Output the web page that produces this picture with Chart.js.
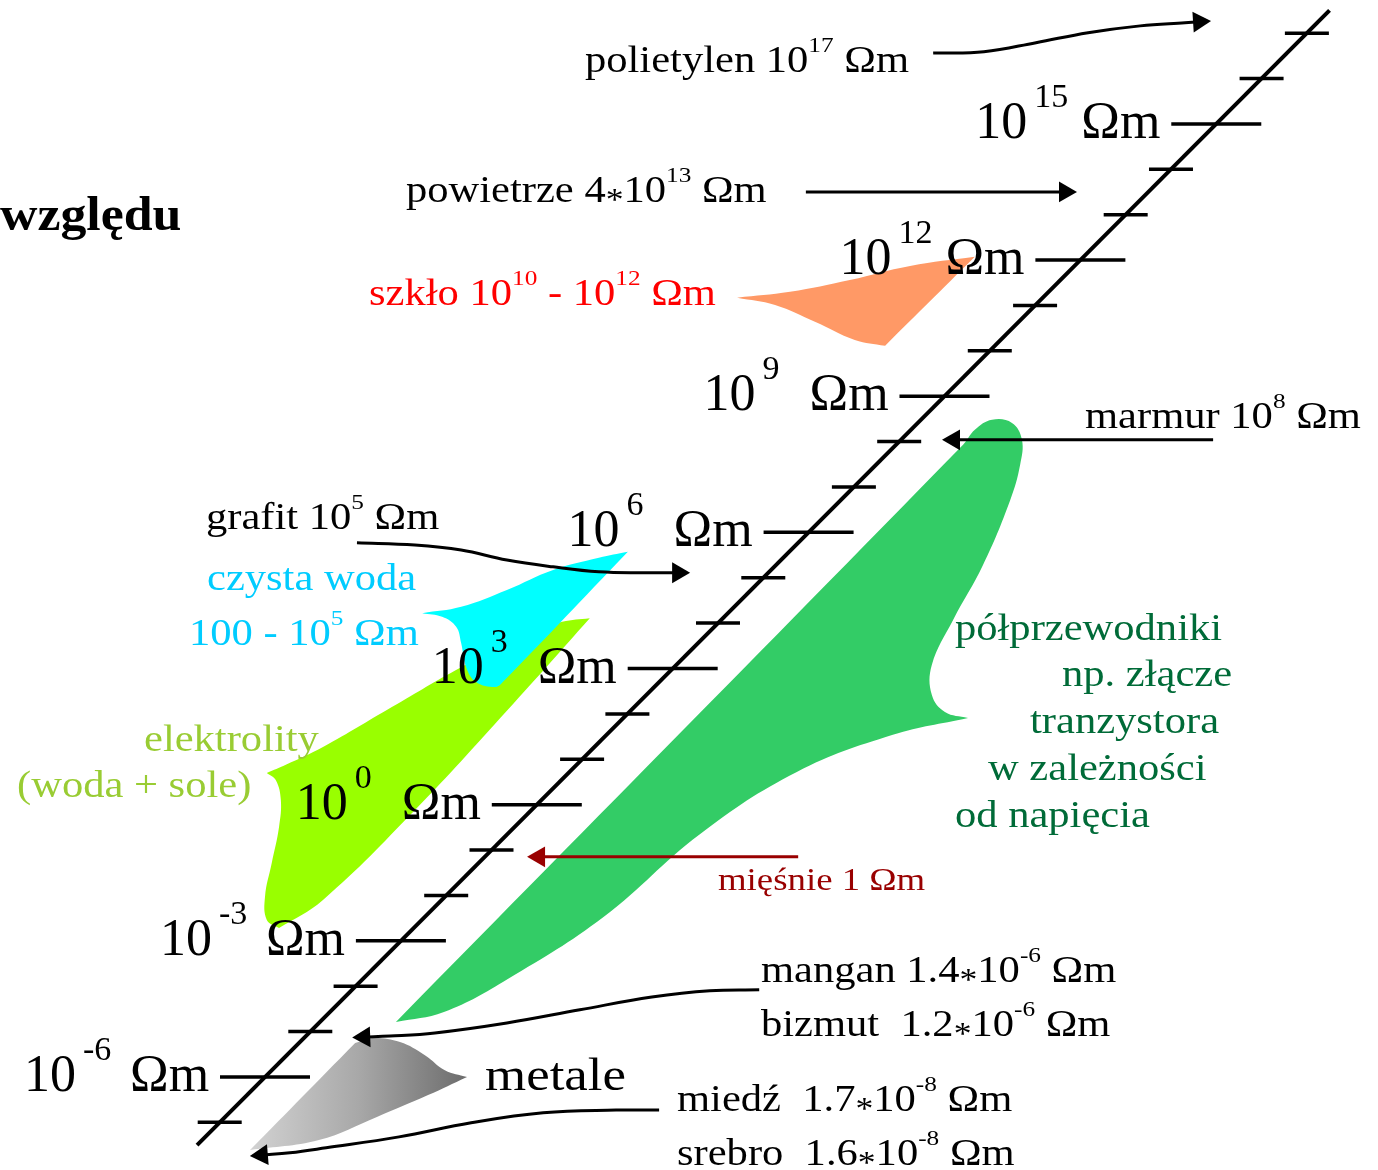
<!DOCTYPE html>
<html>
<head>
<meta charset="utf-8">
<script src="https://cdn.jsdelivr.net/npm/chart.js@4"></script>
<style>
html,body{margin:0;padding:0;background:#fff;}
#wrap{position:relative;width:1378px;height:1170px;}
</style>
</head>
<body>
<div id="wrap"><canvas id="c"></canvas></div>
<script>
// ===== DATA (log10 of resistivity in Ωm) =====
const resistivityDecades = [-7,-6,-5,-4,-3,-2,-1,0,1,2,3,4,5,6,7,8,9,10,11,12,13,14,15,16,17];
const labelledDecades = [-6,-3,0,3,6,9,12,15];
const axisSpan = [-7.5, 17.5];
const tickBase = '10';
const tickUnit = 'Ωm';

// Material arrows (path in decade units, last point = arrow head)
const arrowPolietylen = [[8.75,16.56],[9.87,16.59],[11.02,16.79],[12.17,17.01],[13.32,17.16],[14.31,17.23],[14.62,17.25]];
const arrowPowietrze  = [[5.94,13.5],[11.66,13.5]];
const arrowMarmur     = [[14.93,8.04],[9.21,8.04]];
const arrowGrafit     = [[-3.97,5.77],[-2.69,5.72],[-1.67,5.61],[-0.66,5.39],[0.36,5.24],[1.37,5.13],[2.39,5.11],[3.12,5.11]];
const arrowMiesnie    = [[5.77,-1.15],[0.05,-1.15]];
const arrowMangan     = [[4.91,-4.08],[3.82,-4.10],[2.54,-4.24],[0.95,-4.52],[-0.66,-4.81],[-2.25,-5.03],[-3.24,-5.10],[-3.81,-5.12]];
const arrowMiedz      = [[2.70,-6.73],[1.75,-6.73],[0.14,-6.79],[-1.45,-7.01],[-3.04,-7.32],[-4.65,-7.56],[-5.45,-7.67],[-6.07,-7.72]];

// Material ranges (outlines in decade units; repeated point = sharp corner)
const rangeSzklo = [[4.42,11.17],[4.42,11.17],[5.59,11.30],[6.91,11.56],[8.24,11.87],[9.67,12.07],[9.67,12.07],[7.69,10.11],[7.69,10.11],[7.02,10.24],[6.14,10.64],[5.26,11.01],[4.42,11.17]];
const rangeWoda = [[2.01,5.57],[2.01,5.57],[1.37,5.44],[0.36,5.17],[-0.66,4.73],[-1.67,4.36],[-2.53,4.22],[-2.53,4.22],[-2.09,4.14],[-1.78,3.92],[-1.67,3.56],[-1.56,3.03],[-1.34,2.70],[-0.92,2.59],[-0.75,2.70],[2.01,5.57]];
const rangeElektrolity = [[1.17,4.11],[1.17,4.11],[0.56,4.03],[-0.15,3.78],[-1.67,3.03],[-3.20,2.15],[-4.72,1.27],[-5.54,0.88],[-5.96,0.70],[-5.96,0.70],[-5.76,0.54],[-5.65,0.10],[-5.69,-0.49],[-5.85,-1.28],[-6.00,-2.03],[-5.96,-2.54],[-5.69,-2.72],[-5.69,-2.72],[-4.72,-2.10],[-2.69,-0.12],[-0.66,2.07],[1.17,4.11]];
const rangePolprzewodniki = [[-3.11,-4.79],[-3.11,-4.79],[9.41,7.93],[9.67,8.26],[10.05,8.48],[10.49,8.41],[10.71,8.04],[10.67,7.49],[10.45,6.71],[9.85,5.28],[9.19,4.07],[8.72,3.08],[8.72,2.42],[9.01,2.04],[9.52,1.91],[9.52,1.91],[7.86,1.54],[5.74,0.72],[3.60,-0.65],[1.48,-2.47],[-0.64,-3.84],[-2.05,-4.57],[-3.11,-4.79]];
const rangeMetale = [[-4.01,-5.25],[-4.01,-5.25],[-3.62,-5.14],[-3.02,-5.23],[-2.47,-5.52],[-2.03,-5.85],[-1.54,-6.00],[-1.54,-6.00],[-2.40,-6.40],[-3.53,-6.88],[-4.81,-7.39],[-6.33,-7.61],[-6.33,-7.61],[-4.01,-5.25]];

// ===== LAYOUT / STYLE =====
const FONT = '"Liberation Serif", "Times New Roman", serif';
// '~' marks a small multiplication asterisk, ^{..} a superscript
const notes = [
  {text:'polietylen 10^{17} Ωm', x:585, y:72, color:'#000'},
  {text:'powietrze 4~10^{13} Ωm', x:406, y:202, color:'#000'},
  {text:'szkło 10^{10} - 10^{12} Ωm', x:369, y:305, color:'#ff0000'},
  {text:'marmur 10^{8} Ωm', x:1085, y:428, color:'#000'},
  {text:'grafit 10^{5} Ωm', x:206, y:529, color:'#000'},
  {text:'czysta woda', x:207, y:590, color:'#00ccff'},
  {text:'100 - 10^{5} Ωm', x:189, y:645, color:'#00ccff'},
  {text:'elektrolity', x:144, y:751, color:'#99cc33'},
  {text:'(woda + sole)', x:17, y:797, color:'#99cc33'},
  {text:'półprzewodniki', x:955, y:640, color:'#006b38'},
  {text:'np. złącze', x:1062, y:686, color:'#006b38'},
  {text:'tranzystora', x:1030, y:733, color:'#006b38'},
  {text:'w zależności', x:988, y:780, color:'#006b38'},
  {text:'od napięcia', x:955, y:827, color:'#006b38'},
  {text:'mięśnie 1 Ωm', x:718, y:890, color:'#990000', size:32},
  {text:'mangan 1.4~10^{-6} Ωm', x:761, y:982, color:'#000'},
  {text:'bizmut  1.2~10^{-6} Ωm', x:761, y:1036, color:'#000'},
  {text:'metale', x:485, y:1090, color:'#000', size:46},
  {text:'miedź  1.7~10^{-8} Ωm', x:677, y:1111, color:'#000'},
  {text:'srebro  1.6~10^{-8} Ωm', x:677, y:1165, color:'#000'},
  {text:'względu', x:0, y:230, color:'#000', size:48, bold:true, sx:1.08}
];
const NOTE_SIZE = 37, NOTE_SX = 1.15;

function pts(a){ return a.map(p => ({x:p[0], y:p[1]})); }

function blob(arr, color, order){
  return {data: pts(arr), showLine:true, fill:'shape', backgroundColor:color,
    borderColor:'rgba(0,0,0,0)', borderWidth:0, pointRadius:0, tension:0.4, order:order};
}

function arrow(arr, color, order){
  const n = arr.length;
  return {data: pts(arr), showLine:true, fill:false, borderColor:color, borderWidth:3,
    tension:0.4, order:order, pointStyle:'triangle',
    pointRadius: arr.map((_,i) => i === n-1 ? 12 : 0),
    pointBackgroundColor: color, pointBorderWidth:0, pointBorderColor:color,
    pointRotation: (c) => {
      const ch = c.chart, xs = ch.scales.x, ys = ch.scales.y;
      const d = c.dataset.data, i = c.dataIndex;
      if (!xs || !ys || i < 1) return 0;
      const dx = xs.getPixelForValue(d[i].x) - xs.getPixelForValue(d[i-1].x);
      const dy = ys.getPixelForValue(d[i].y) - ys.getPixelForValue(d[i-1].y);
      return Math.atan2(dy, dx) * 180 / Math.PI + 90;
    }};
}

const metalGradient = (c) => {
  const ch = c.chart, xs = ch.scales.x;
  if (!xs || !ch.chartArea) return '#aaaaaa';
  const g = ch.ctx.createLinearGradient(xs.getPixelForValue(-6.33), 0, xs.getPixelForValue(-1.54), 0);
  g.addColorStop(0, '#d2d2d2');
  g.addColorStop(0.5, '#a8a8a8');
  g.addColorStop(1, '#6c6c6c');
  return g;
};

const minorTicks = resistivityDecades.filter(d => !labelledDecades.includes(d));

const datasets = [
  blob(rangeElektrolity, '#99ff00', 14),
  blob(rangeWoda, '#00ffff', 13),
  blob(rangeSzklo, '#ff9966', 12),
  blob(rangePolprzewodniki, '#33cc66', 11),
  blob(rangeMetale, metalGradient, 10),
  {data: pts([[axisSpan[0],axisSpan[0]],[axisSpan[1],axisSpan[1]]]), showLine:true, borderColor:'#000', borderWidth:4, pointRadius:0, order:3, fill:false},
  {data: minorTicks.map(d => ({x:d, y:d})), showLine:false, pointStyle:'line', pointRadius:22, pointBorderWidth:3.5, pointBorderColor:'#000', order:2},
  {data: labelledDecades.map(d => ({x:d, y:d})), showLine:false, pointStyle:'line', pointRadius:45, pointBorderWidth:3.5, pointBorderColor:'#000', order:2},
  arrow(arrowPolietylen, '#000', 1),
  arrow(arrowPowietrze, '#000', 1),
  arrow(arrowMarmur, '#000', 1),
  arrow(arrowGrafit, '#000', 1),
  arrow(arrowMiesnie, '#990000', 1),
  arrow(arrowMangan, '#000', 1),
  arrow(arrowMiedz, '#000', 1)
];

function drawRich(ctx, text, x, y, size, color, bold, sx){
  const parts = [];
  const re = /\^\{([^}]*)\}|~/g;
  let last = 0, m;
  while ((m = re.exec(text)) !== null){
    if (m.index > last) parts.push({t:text.slice(last, m.index), kind:'n'});
    if (m[0] === '~') parts.push({t:'*', kind:'ast'});
    else parts.push({t:m[1], kind:'sup'});
    last = re.lastIndex;
  }
  if (last < text.length) parts.push({t:text.slice(last), kind:'n'});
  ctx.save();
  ctx.translate(x, y);
  ctx.scale(sx, 1);
  ctx.fillStyle = color;
  ctx.textBaseline = 'alphabetic';
  ctx.textAlign = 'left';
  let cx = 0;
  for (const p of parts){
    let fs = size, dy = 0;
    if (p.kind === 'sup'){ fs = Math.round(size*0.6); dy = -size*0.55; }
    if (p.kind === 'ast'){ fs = Math.round(size*0.85); dy = size*0.22; }
    ctx.font = (bold ? 'bold ' : '') + fs + 'px ' + FONT;
    ctx.fillText(p.t, cx, dy);
    cx += ctx.measureText(p.t).width;
  }
  ctx.restore();
}

const textPlugin = {
  id: 'texts',
  afterDatasetsDraw(chart){
    const ctx = chart.ctx, xs = chart.scales.x, ys = chart.scales.y;
    for (const d of labelledDecades){
      const cx = xs.getPixelForValue(d), cy = ys.getPixelForValue(d);
      const x0 = cx - 241;
      ctx.save();
      ctx.fillStyle = '#000';
      ctx.textBaseline = 'alphabetic';
      ctx.font = '52px ' + FONT;
      ctx.fillText(tickBase, x0, cy + 14);
      ctx.font = '34px ' + FONT;
      ctx.fillText(String(d), x0 + 59, cy - 17);
      ctx.font = '52px ' + FONT;
      ctx.fillText(tickUnit, x0 + 106, cy + 14);
      ctx.restore();
    }
    for (const n of notes){
      drawRich(ctx, n.text, n.x, n.y, n.size || NOTE_SIZE, n.color, !!n.bold, n.sx || NOTE_SX);
    }
  }
};

new Chart(document.getElementById('c'), {
  type: 'scatter',
  data: {datasets},
  options: {
    responsive: true,
    maintainAspectRatio: false,
    animation: false,
    events: [],
    layout: {padding: 0, autoPadding: false},
    plugins: {legend:{display:false}, tooltip:{enabled:false}},
    scales: {
      x: {type:'linear', display:false, min:-11.85, max:18.57},
      y: {type:'linear', display:false, min:-8.05, max:17.73}
    }
  },
  plugins: [textPlugin]
});
</script>
</body>
</html>
